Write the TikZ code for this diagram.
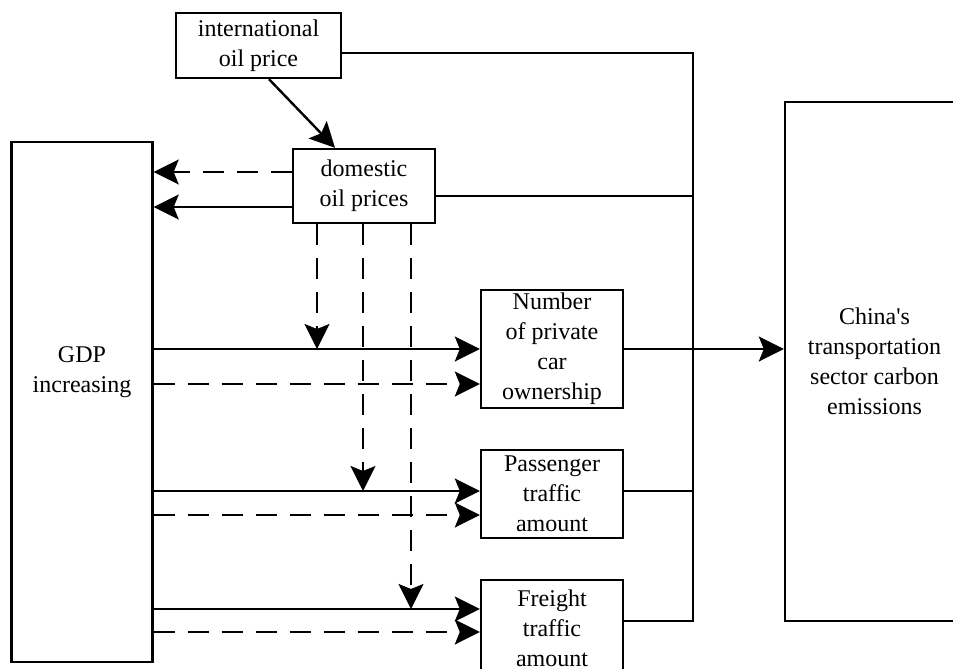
\documentclass[tikz,border=0pt]{standalone}
\usepackage{fontspec}
\newfontfamily\figfont{Liberation Serif}
\usetikzlibrary{arrows.meta}

\begin{document}
\begin{tikzpicture}[x=0.5pt, y=-0.5pt, line width=1.2pt,
  >={Stealth[length=12.5pt,width=12.5pt,inset=2.5pt]},
  box/.style={draw, rectangle, inner sep=0pt, align=center, font=\figfont\fontsize{12}{15}\selectfont},
  dashline/.style={dash pattern=on 10.5pt off 6.5pt}]
\clip (0,0) rectangle (953,669);

% draw the boxes
\node[box, minimum width=82.5pt, minimum height=32.5pt] (intl) at (258.5,45.5) {international\\oil price};
\node[box, minimum width=71pt, minimum height=37pt] (dom) at (364,186) {domestic\\oil prices};
\node[box, minimum width=70.5pt, minimum height=260pt] (gdp) at (82,402) {};
\node[box, draw=none] (gdptext) at (82,372) {GDP\\increasing};
\node[box, minimum width=71pt, minimum height=59pt] (num) at (552,349) {Number\\of private\\car\\ownership};
\node[box, minimum width=71pt, minimum height=44pt] (pas) at (552,494) {Passenger\\traffic\\amount};
\node[box, minimum width=71pt, minimum height=48pt] (fre) at (552,628) {Freight\\traffic\\amount};
\node[box, minimum width=89.5pt, minimum height=259.5pt] (china) at (874.5,361.5) {China's\\transportation\\sector carbon\\emissions};
\coordinate (bus) at (693,621);

% oil price links
\draw[->] ([xshift=5.25pt]intl.south) -- ([xshift=-14.5pt]dom.north);
\draw[dashline,->] ([yshift=7pt]dom.west) -- ([yshift=7pt]dom.west -| gdp.east);
\draw[->] ([yshift=-10.5pt]dom.west) -- ([yshift=-10.5pt]dom.west -| gdp.east);

% the collecting line on the right
\draw ([yshift=-3.75pt]intl.east) -| (bus) -- (bus -| fre.east);
\draw ([yshift=-5pt]dom.east) -- ([yshift=-5pt]dom.east -| bus);
\draw ([yshift=1.5pt]pas.east) -- ([yshift=1.5pt]pas.east -| bus);
\draw[->] (num.east) -- (num.east -| china.west);

% arrows from GDP, solid and dashed
\foreach \b/\a/\d in {num/0/-17.5, pas/1.5/-10.5, fre/9.5/-2} {
\draw[->] ([yshift=\a pt]\b.west -| gdp.east) -- ([yshift=\a pt]\b.west);
\draw[dashline,->] ([yshift=\d pt]\b.west -| gdp.east) -- ([yshift=\d pt]\b.west);
}

% dashed arrows down from domestic oil prices
\foreach \x/\b/\a in {-23.5/num/0, -0.5/pas/1.5, 23.5/fre/9.5}
\draw[dashline,->] ([xshift=\x pt]dom.south) -- ([xshift=\x pt,yshift=\a pt]dom.south |- \b.west);
\end{tikzpicture}
\end{document}
